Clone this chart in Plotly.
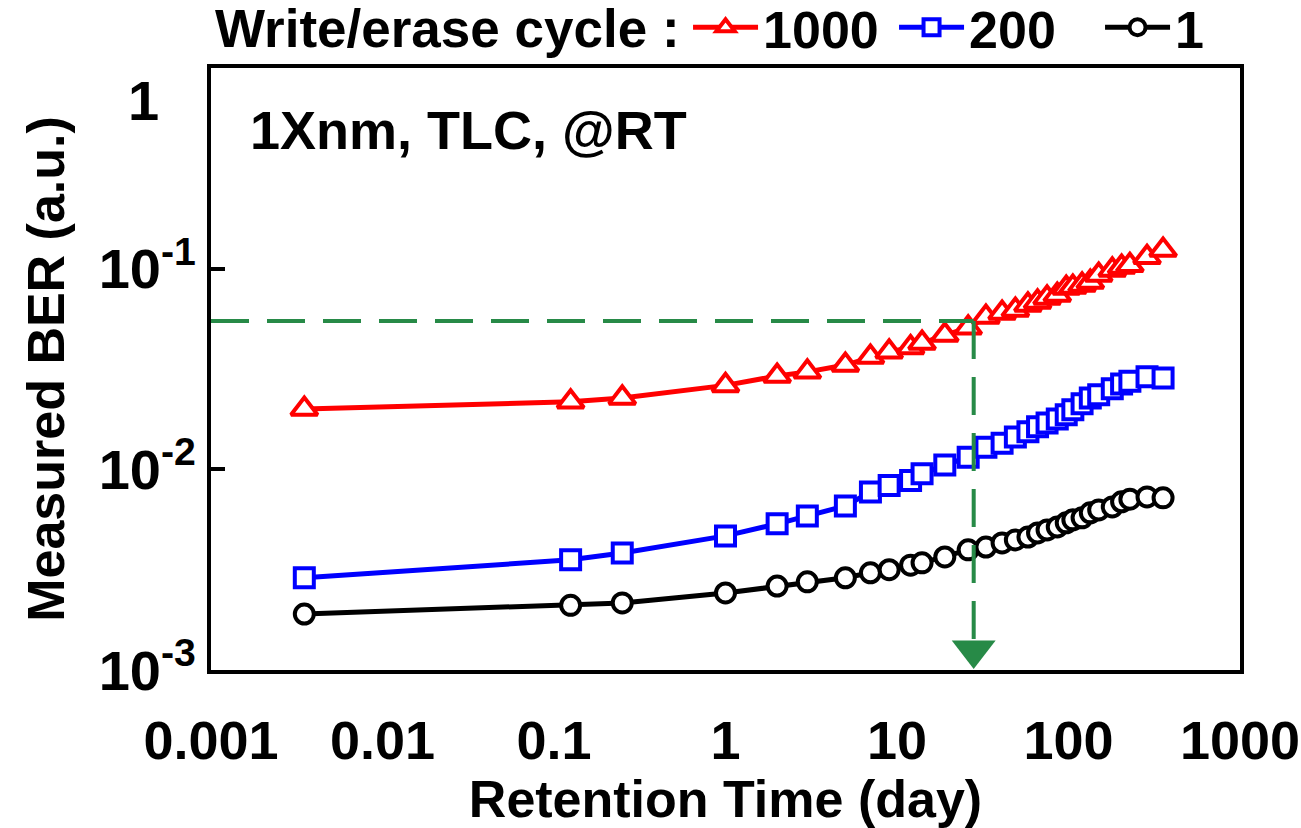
import plotly.graph_objects as go

# Retention time (day)
days = [0.0035, 0.125, 0.25, 1, 2, 3, 5, 7, 9, 12, 14, 19, 26, 33, 41, 49, 58, 66,
        75, 86, 97, 106, 120, 134, 150, 180, 204, 228, 287, 356]

# Measured BER (a.u.) for each write/erase cycle count
ber_1000 = [0.0200, 0.0217, 0.0227, 0.0262, 0.0292, 0.0306, 0.0331, 0.0363, 0.0385, 0.0405,
            0.0426, 0.0467, 0.0507, 0.0574, 0.0601, 0.0623, 0.0660, 0.0683, 0.0715, 0.0740,
            0.0800, 0.0811, 0.0830, 0.0859, 0.0930, 0.0986, 0.1020, 0.1040, 0.1140, 0.1240]
ber_200 = [0.00288, 0.00354, 0.00383, 0.00466, 0.00535, 0.00586, 0.00657, 0.00770, 0.00830, 0.00880,
           0.00950, 0.01050, 0.01150, 0.01290, 0.01350, 0.01450, 0.01540, 0.01630, 0.01700, 0.01780,
           0.01870, 0.01980, 0.02120, 0.02270, 0.02350, 0.02520, 0.02660, 0.02750, 0.02890, 0.02850]
ber_1 = [0.00190, 0.00210, 0.00216, 0.00242, 0.00262, 0.00275, 0.00288, 0.00305, 0.00316, 0.00333,
         0.00342, 0.00366, 0.00397, 0.00410, 0.00430, 0.00445, 0.00460, 0.00482, 0.00499, 0.00516,
         0.00541, 0.00560, 0.00573, 0.00607, 0.00628, 0.00650, 0.00689, 0.00710, 0.00729, 0.00721]

series_names = ["1000", "200", "1"]
legend_title = "Write/erase cycle :"

# Guide lines (threshold)
threshold_ber = 0.0548
threshold_day = 28

x_tickvals = [0.001, 0.01, 0.1, 1, 10, 100, 1000]
x_ticktext = ["0.001", "0.01", "0.1", "1", "10", "100", "1000"]
y_tickvals = [1, 0.1, 0.01, 0.001]
y_ticktext = ["", "10<sup>-1</sup>", "10<sup>-2</sup>", "10<sup>-3</sup>"]
y_top_label = "1"

FONT = "Liberation Sans, Arial, sans-serif"
GREEN = "#278A47"

fig = go.Figure()

styles = [
    (ber_1000, "red", "triangle-up", 23),
    (ber_200, "blue", "square", 19),
    (ber_1, "black", "circle", 19),
]
for (vals, col, sym, sz), name in zip(styles, series_names):
    fig.add_trace(go.Scatter(
        x=days, y=vals, name=name, mode="lines+markers",
        line=dict(color=col, width=5),
        marker=dict(symbol=sym, size=sz, color="white",
                    line=dict(color=col, width=4)),
    ))

# green dashed guide lines
fig.add_trace(go.Scatter(
    x=[x_tickvals[0], threshold_day], y=[threshold_ber, threshold_ber],
    mode="lines", line=dict(color=GREEN, width=4, dash="38px,18px"),
    showlegend=False, hoverinfo="skip"))
arrow_y = y_tickvals[-1] * 10 ** 0.1
fig.add_trace(go.Scatter(
    x=[threshold_day, threshold_day], y=[threshold_ber, arrow_y],
    mode="lines", line=dict(color=GREEN, width=4, dash="38px,18px"),
    showlegend=False, hoverinfo="skip"))
fig.add_trace(go.Scatter(
    x=[threshold_day], y=[arrow_y], mode="markers",
    marker=dict(symbol="triangle-down", size=38, color=GREEN, line=dict(width=0)),
    showlegend=False, hoverinfo="skip", cliponaxis=False))

fig.add_annotation(
    x=0.036, y=0.897, xref="paper", yref="paper", xanchor="left", yanchor="middle",
    text="1Xnm, TLC, @RT", showarrow=False,
    font=dict(family=FONT, size=54, color="black", weight="bold"))

fig.add_annotation(
    x=0, y=1, xref="paper", yref="paper", xanchor="right", yanchor="middle",
    xshift=-50, yshift=-32, text=y_top_label, showarrow=False,
    font=dict(family=FONT, size=56, color="black", weight="bold"))

# legend heading
fig.add_annotation(
    x=0.002, y=1.066, xref="paper", yref="paper", xanchor="left", yanchor="middle",
    text=legend_title, showarrow=False,
    font=dict(family=FONT, size=53, color="black", weight="bold"))

fig.update_layout(
    width=1301, height=828,
    margin=dict(l=211, r=61, t=68, b=158, autoexpand=False),
    paper_bgcolor="white", plot_bgcolor="white",
    font=dict(family=FONT, color="black", weight="bold"),
    showlegend=True,
    legend=dict(
        orientation="h", xref="paper", yref="paper",
        x=0.4636, xanchor="left", y=1.0, yanchor="bottom",
        font=dict(family=FONT, size=52, color="black", weight="bold"),
        entrywidth=126, entrywidthmode="pixels", itemwidth=65,
        bgcolor="rgba(0,0,0,0)", tracegroupgap=0,
    ),
    xaxis=dict(
        type="log", range=[-3, 3], tickvals=x_tickvals, ticktext=x_ticktext,
        ticks="", showgrid=False, zeroline=False, automargin=False,
        showline=True, mirror=True, linewidth=4, linecolor="black",
        ticklabelstandoff=20,
        tickfont=dict(family=FONT, size=54, color="black", weight="bold"),
        title=dict(text="Retention Time (day)", standoff=10,
                   font=dict(family=FONT, size=52, color="black", weight="bold")),
    ),
    yaxis=dict(
        type="log", range=[-3, 0], tickvals=y_tickvals, ticktext=y_ticktext,
        ticks="inside", ticklen=14, tickwidth=4, tickcolor="black",
        showgrid=False, zeroline=False, automargin=False,
        showline=True, mirror=True, linewidth=4, linecolor="black",
        tickfont=dict(family=FONT, size=56, color="black", weight="bold"),
        title=dict(text="Measured BER (a.u.)", standoff=18,
                   font=dict(family=FONT, size=52, color="black", weight="bold")),
    ),
)

fig.write_html("out.html", config={"displayModeBar": False},
               post_script="document.body.style.margin='0px';")
